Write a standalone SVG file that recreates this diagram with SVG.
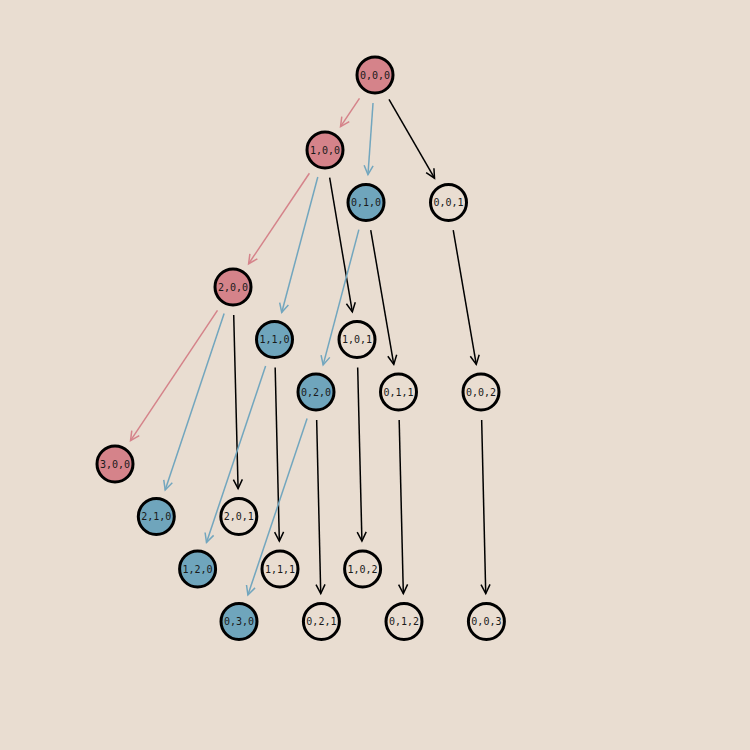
<svg xmlns="http://www.w3.org/2000/svg" width="750" height="750" viewBox="0 0 750 750">
<style>
.n{stroke:#000;stroke-width:3}
.r{fill:#D5838A}
.b{fill:#6FA5BC}
.w{fill:#E9DDD1}
text{font-family:"DejaVu Sans Mono","Liberation Mono",monospace;font-size:10px;fill:#1a1a1a;text-anchor:middle;dominant-baseline:central}
.e{fill:none;stroke-width:1.5}
.er{stroke:#D5838A;marker-end:url(#ar)}
.eb{stroke:#72A6BE;marker-end:url(#ab)}
.ek{stroke:#000;marker-end:url(#ak)}
</style>
<defs>
<marker id="ar" markerUnits="userSpaceOnUse" orient="auto" markerWidth="14" markerHeight="14" viewBox="-12 -7 14 14" refX="0" refY="0" overflow="visible"><path d="M-9,-4.5 L0,0 L-9,4.5" fill="none" stroke="#D5838A" stroke-width="1.5"/></marker>
<marker id="ab" markerUnits="userSpaceOnUse" orient="auto" markerWidth="14" markerHeight="14" viewBox="-12 -7 14 14" refX="0" refY="0" overflow="visible"><path d="M-9,-4.5 L0,0 L-9,4.5" fill="none" stroke="#72A6BE" stroke-width="1.5"/></marker>
<marker id="ak" markerUnits="userSpaceOnUse" orient="auto" markerWidth="14" markerHeight="14" viewBox="-12 -7 14 14" refX="0" refY="0" overflow="visible"><path d="M-9,-4.5 L0,0 L-9,4.5" fill="none" stroke="#000" stroke-width="1.5"/></marker>
</defs>
<rect width="750" height="750" fill="#E9DDD1"/>
<g id="connectors">
<line class="e er" x1="359.47" y1="98.30" x2="340.53" y2="126.70"/>
<line class="e eb" x1="373.03" y1="102.93" x2="367.97" y2="174.57"/>
<line class="e ek" x1="388.98" y1="99.26" x2="434.52" y2="178.24"/>
<line class="e er" x1="309.39" y1="173.24" x2="248.61" y2="263.76"/>
<line class="e eb" x1="317.79" y1="177.06" x2="281.71" y2="312.44"/>
<line class="e ek" x1="329.66" y1="177.61" x2="352.34" y2="311.89"/>
<line class="e eb" x1="358.86" y1="229.57" x2="323.14" y2="364.93"/>
<line class="e ek" x1="370.73" y1="230.10" x2="393.77" y2="364.40"/>
<line class="e ek" x1="453.23" y1="230.10" x2="476.27" y2="364.40"/>
<line class="e er" x1="217.47" y1="310.30" x2="130.53" y2="440.70"/>
<line class="e eb" x1="224.12" y1="313.56" x2="165.18" y2="489.94"/>
<line class="e ek" x1="233.71" y1="314.99" x2="238.09" y2="488.51"/>
<line class="e eb" x1="265.60" y1="366.05" x2="206.50" y2="542.45"/>
<line class="e ek" x1="275.17" y1="367.49" x2="279.33" y2="541.01"/>
<line class="e ek" x1="357.68" y1="367.49" x2="361.92" y2="541.01"/>
<line class="e eb" x1="307.09" y1="418.55" x2="247.91" y2="594.95"/>
<line class="e ek" x1="316.66" y1="419.99" x2="320.74" y2="593.51"/>
<line class="e ek" x1="399.17" y1="419.99" x2="403.33" y2="593.51"/>
<line class="e ek" x1="481.66" y1="419.99" x2="485.74" y2="593.51"/>
</g>
<g id="n000"><circle class="n r" cx="375" cy="75" r="18"/><text x="375" y="75">0,0,0</text></g>
<g id="n100"><circle class="n r" cx="325" cy="150" r="18"/><text x="325" y="150">1,0,0</text></g>
<g id="n010"><circle class="n b" cx="366" cy="202.5" r="18"/><text x="366" y="202.5">0,1,0</text></g>
<g id="n001"><circle class="n w" cx="448.5" cy="202.5" r="18"/><text x="448.5" y="202.5">0,0,1</text></g>
<g id="n200"><circle class="n r" cx="233" cy="287" r="18"/><text x="233" y="287">2,0,0</text></g>
<g id="n110"><circle class="n b" cx="274.5" cy="339.5" r="18"/><text x="274.5" y="339.5">1,1,0</text></g>
<g id="n101"><circle class="n w" cx="357" cy="339.5" r="18"/><text x="357" y="339.5">1,0,1</text></g>
<g id="n020"><circle class="n b" cx="316" cy="392" r="18"/><text x="316" y="392">0,2,0</text></g>
<g id="n011"><circle class="n w" cx="398.5" cy="392" r="18"/><text x="398.5" y="392">0,1,1</text></g>
<g id="n002"><circle class="n w" cx="481" cy="392" r="18"/><text x="481" y="392">0,0,2</text></g>
<g id="n300"><circle class="n r" cx="115" cy="464" r="18"/><text x="115" y="464">3,0,0</text></g>
<g id="n210"><circle class="n b" cx="156.3" cy="516.5" r="18"/><text x="156.3" y="516.5">2,1,0</text></g>
<g id="n201"><circle class="n w" cx="238.8" cy="516.5" r="18"/><text x="238.8" y="516.5">2,0,1</text></g>
<g id="n120"><circle class="n b" cx="197.6" cy="569" r="18"/><text x="197.6" y="569">1,2,0</text></g>
<g id="n111"><circle class="n w" cx="280" cy="569" r="18"/><text x="280" y="569">1,1,1</text></g>
<g id="n102"><circle class="n w" cx="362.6" cy="569" r="18"/><text x="362.6" y="569">1,0,2</text></g>
<g id="n030"><circle class="n b" cx="239" cy="621.5" r="18"/><text x="239" y="621.5">0,3,0</text></g>
<g id="n021"><circle class="n w" cx="321.4" cy="621.5" r="18"/><text x="321.4" y="621.5">0,2,1</text></g>
<g id="n012"><circle class="n w" cx="404" cy="621.5" r="18"/><text x="404" y="621.5">0,1,2</text></g>
<g id="n003"><circle class="n w" cx="486.4" cy="621.5" r="18"/><text x="486.4" y="621.5">0,0,3</text></g>
</svg>
